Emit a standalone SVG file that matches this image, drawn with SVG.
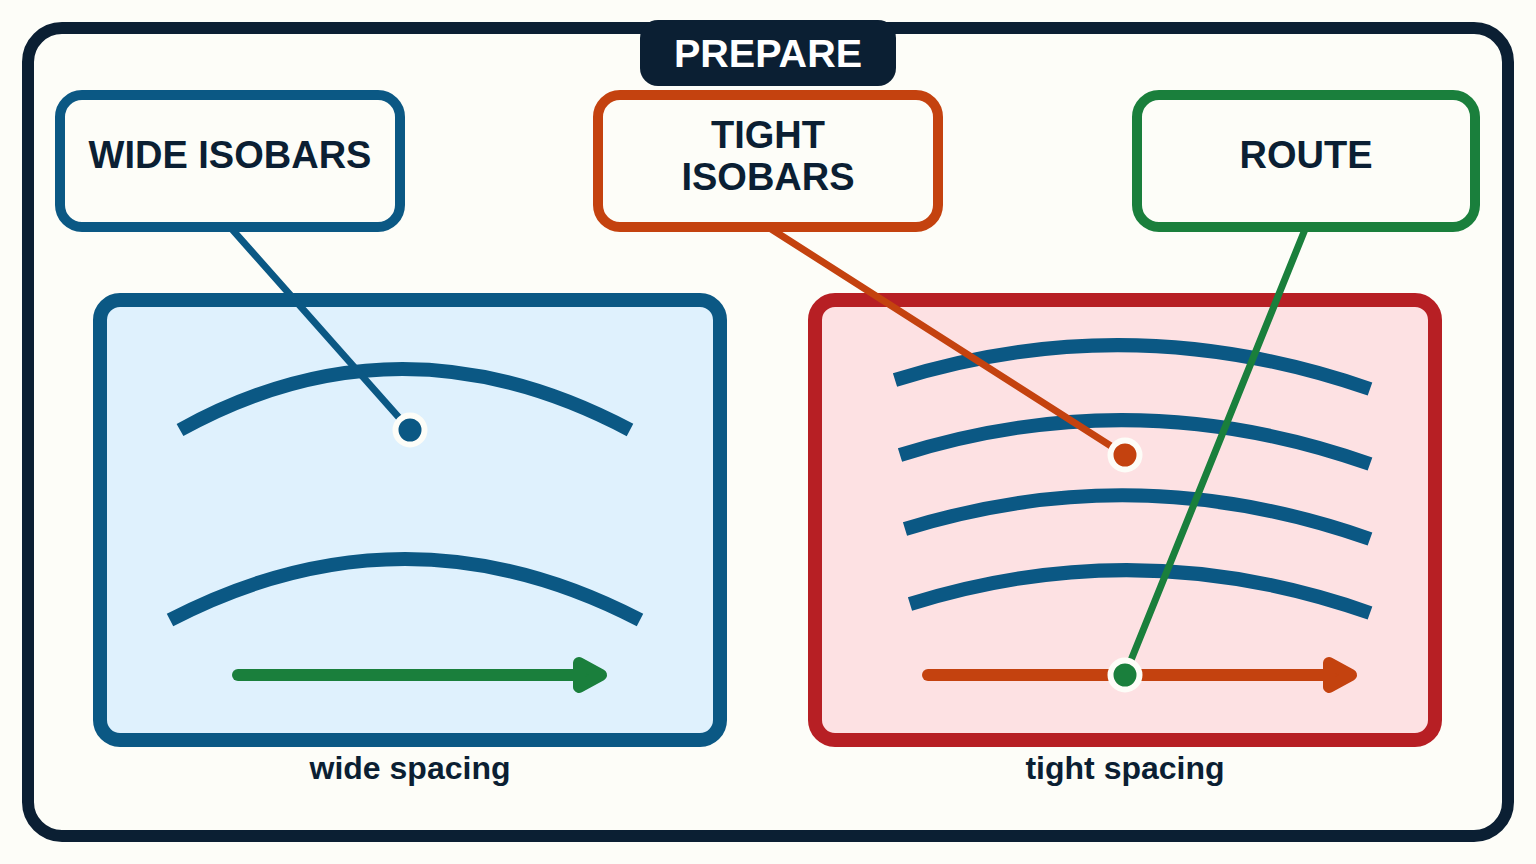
<svg xmlns="http://www.w3.org/2000/svg" width="1536" height="864" viewBox="0 0 1536 864">
<style>
.t{font-family:"Liberation Sans",Arial,sans-serif;font-weight:bold;text-anchor:middle;fill:#0b1f33}
.box{fill:#fdfdf8;stroke-width:10}
.iso{fill:none;stroke:#0b5884;stroke-width:14;stroke-linecap:butt}
.lead{fill:none;stroke-width:7;stroke-linecap:round}
.dot{stroke:#fdfdf8;stroke-width:6}
.shaft{fill:none;stroke-width:12;stroke-linecap:round}
.head{stroke-width:12;stroke-linejoin:round}
</style>
<rect x="0" y="0" width="1536" height="864" fill="#fdfdf8"/>
<g id="frame">
<rect x="28" y="28" width="1480" height="808" rx="34" fill="#fdfdf8" stroke="#0b1f33" stroke-width="12"/>
</g>
<g id="prepare">
<rect x="640" y="20" width="256" height="66" rx="18" fill="#0b1f33"/>
<text class="t" x="768" y="67" font-size="39.5" style="fill:#ffffff">PREPARE</text>
</g>
<g id="panel-wide">
<rect x="100" y="300" width="620" height="440" rx="20" fill="#dff1fd" stroke="#0b5884" stroke-width="14"/>
<path class="iso" d="M180,430 Q400,308 630,430"/>
<path class="iso" d="M170,620 Q405,498 640,620"/>
<path class="shaft" stroke="#1a7f3c" d="M238,675 L595,675"/>
<polygon class="head" fill="#1a7f3c" stroke="#1a7f3c" points="579,663 601,675 579,687"/>
<text class="t" x="410" y="779" font-size="32">wide spacing</text>
</g>
<g id="panel-tight">
<rect x="815" y="300" width="620" height="440" rx="20" fill="#fde1e3" stroke="#b71f24" stroke-width="14"/>
<path class="iso" d="M895,380 Q1130,306 1370,389"/>
<path class="iso" d="M900,455 Q1135,381 1370,464"/>
<path class="iso" d="M905,529 Q1137,457 1370,539"/>
<path class="iso" d="M910,604 Q1140,532 1370,613"/>
<path class="shaft" stroke="#c4420f" d="M928,675 L1345,675"/>
<polygon class="head" fill="#c4420f" stroke="#c4420f" points="1329,663 1351,675 1329,687"/>
<text class="t" x="1125" y="779" font-size="32">tight spacing</text>
</g>
<g id="connectors">
<line class="lead" stroke="#0b5884" x1="230" y1="227" x2="410" y2="430"/>
<line class="lead" stroke="#c4420f" x1="768" y1="227" x2="1125" y2="455"/>
<line class="lead" stroke="#1a7f3c" x1="1306" y1="227" x2="1125" y2="675"/>
<circle class="dot" cx="410" cy="430" r="14.5" fill="#0b5884"/>
<circle class="dot" cx="1125" cy="455" r="14.5" fill="#c4420f"/>
<circle class="dot" cx="1125" cy="675" r="14.5" fill="#1a7f3c"/>
</g>
<g id="wide-isobars">
<rect class="box" x="60" y="95" width="340" height="132" rx="22" stroke="#0b5884"/>
<text class="t" x="230" y="168" font-size="38">WIDE ISOBARS</text>
</g>
<g id="tight-isobars">
<rect class="box" x="598" y="95" width="340" height="132" rx="22" stroke="#c4420f"/>
<text class="t" x="768" y="148" font-size="38">TIGHT</text>
<text class="t" x="768" y="190" font-size="38">ISOBARS</text>
</g>
<g id="route">
<rect class="box" x="1137" y="95" width="338" height="132" rx="22" stroke="#1a7f3c"/>
<text class="t" x="1306" y="168" font-size="38">ROUTE</text>
</g>
</svg>
